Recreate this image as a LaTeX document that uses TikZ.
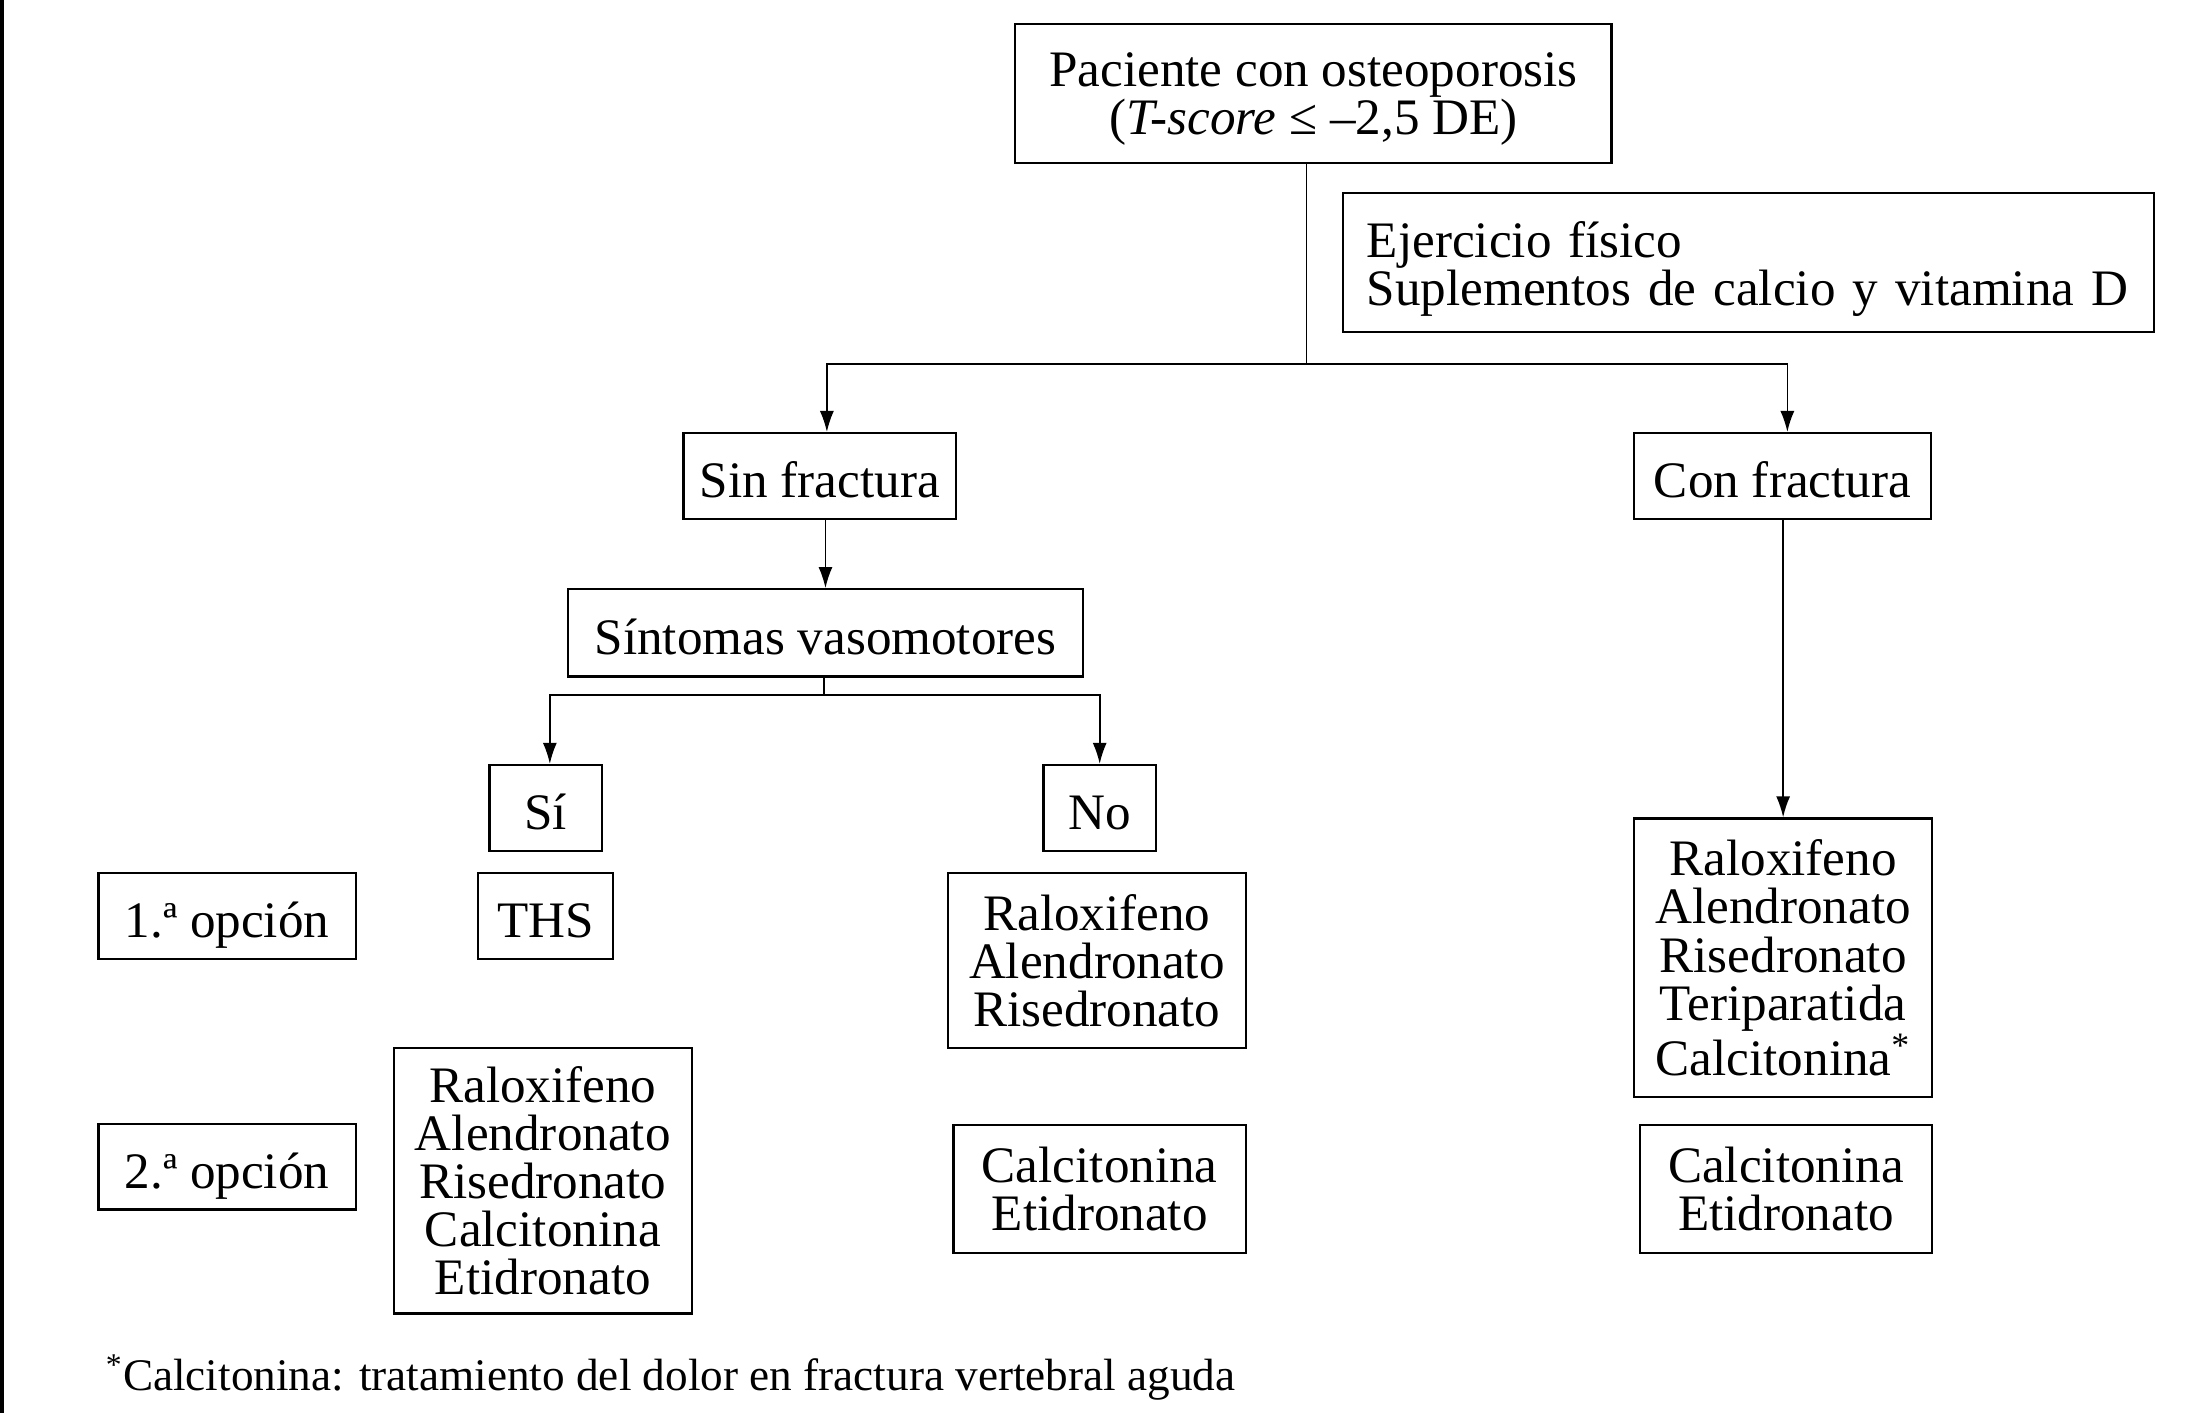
\documentclass[tikz,border=0pt]{standalone}
\usepackage{fontspec}
\setmainfont{Liberation Serif}
\usetikzlibrary{arrows.meta}
\begin{document}
\begin{tikzpicture}[x=0.02cm,y=-0.02cm,
  box/.style={draw,line width=0.9pt,inner sep=0pt,align=center,
    font=\fontsize{20.7pt}{19.5pt}\selectfont},
  one/.style={box,text height=0.62cm,text depth=0cm},
  conn/.style={line width=0.7pt},
  arr/.style={conn,-{Latex[length=0.3cm,width=0.2cm]}}]
\useasboundingbox (0,0) rectangle (1568,1005);
\draw[line width=0.06cm] (1.5,0) -- (1.5,1005);
% nodes
\node[box,text depth=0cm,minimum width=8.48cm,minimum height=1.98cm] (top) at (934,66.5)
  {Paciente con osteoporosis\\(\textit{T-score} ≤ –2,5 DE)};
\node[box,text depth=0.65cm,minimum width=11.54cm,minimum height=1.98cm,text width=10.86cm,align=left] (ejer) at (1243.5,186.5)
  {Ejercicio físico\\Suplementos de calcio y vitamina D};
\node[one,minimum width=3.88cm,minimum height=1.22cm] (sin) at (583,338.5) {Sin fractura};
\node[one,minimum width=4.22cm,minimum height=1.22cm] (con) at (1267.5,338.5) {Con fractura};
\node[one,minimum width=7.32cm,minimum height=1.24cm] (sint) at (587,450) {Síntomas vasomotores};
\node[one,minimum width=1.6cm,minimum height=1.22cm] (si) at (388,574.5) {Sí};
\node[one,minimum width=1.6cm,minimum height=1.22cm] (no) at (782,574.5) {No};
\node[one,minimum width=3.66cm,minimum height=1.22cm] (op1) at (161.5,651.5) {1.ª opción};
\node[one,minimum width=1.92cm,minimum height=1.22cm] (ths) at (388,651.5) {THS};
\node[box,minimum width=4.24cm,minimum height=2.48cm] (nolist) at (780,683)
  {Raloxifeno\\Alendronato\\Risedronato};
\node[box,minimum width=4.16cm,minimum height=1.82cm] (nocal) at (782,845.5)
  {Calcitonina\\Etidronato};
\node[one,minimum width=3.66cm,minimum height=1.22cm] (op2) at (161.5,829.5) {2.ª opción};
\node[box,text depth=-0.08cm,minimum width=4.24cm,minimum height=3.78cm] (sileft) at (386,839.5)
  {Raloxifeno\\Alendronato\\Risedronato\\Calcitonina\\Etidronato};
\node[box,text depth=-0.12cm,minimum width=4.24cm,minimum height=3.96cm] (conlist) at (1268,681)
  {Raloxifeno\\Alendronato\\Risedronato\\Teriparatida\\Calcitonina\textsuperscript{*}};
\node[box,minimum width=4.16cm,minimum height=1.82cm] (concal) at (1270,845.5)
  {Calcitonina\\Etidronato};
\node[anchor=base west,inner sep=0pt,font=\fontsize{18.3pt}{19pt}\selectfont] (foot) at (75,989)
  {\textsuperscript{*}Calcitonina: tratamiento del dolor en fractura vertebral aguda};
% connectors
\coordinate (j1) at (929,259);
\draw[conn] (top.south -| j1) -- (j1);
\draw[arr] (j1) -| ([xshift=0.1cm]sin.north);
\draw[arr] (j1) -| ([xshift=0.07cm]con.north);
\draw[arr] (sin.south -| sint.north) -- (sint.north);
\coordinate (j2) at (586,494);
\draw[conn] (sint.south -| j2) -- (j2);
\draw[arr] (j2) -| ([xshift=0.06cm]si.north);
\draw[arr] (j2) -| (no.north);
\draw[arr] (con.south -| conlist.north) -- (conlist.north);
\end{tikzpicture}
\end{document}
